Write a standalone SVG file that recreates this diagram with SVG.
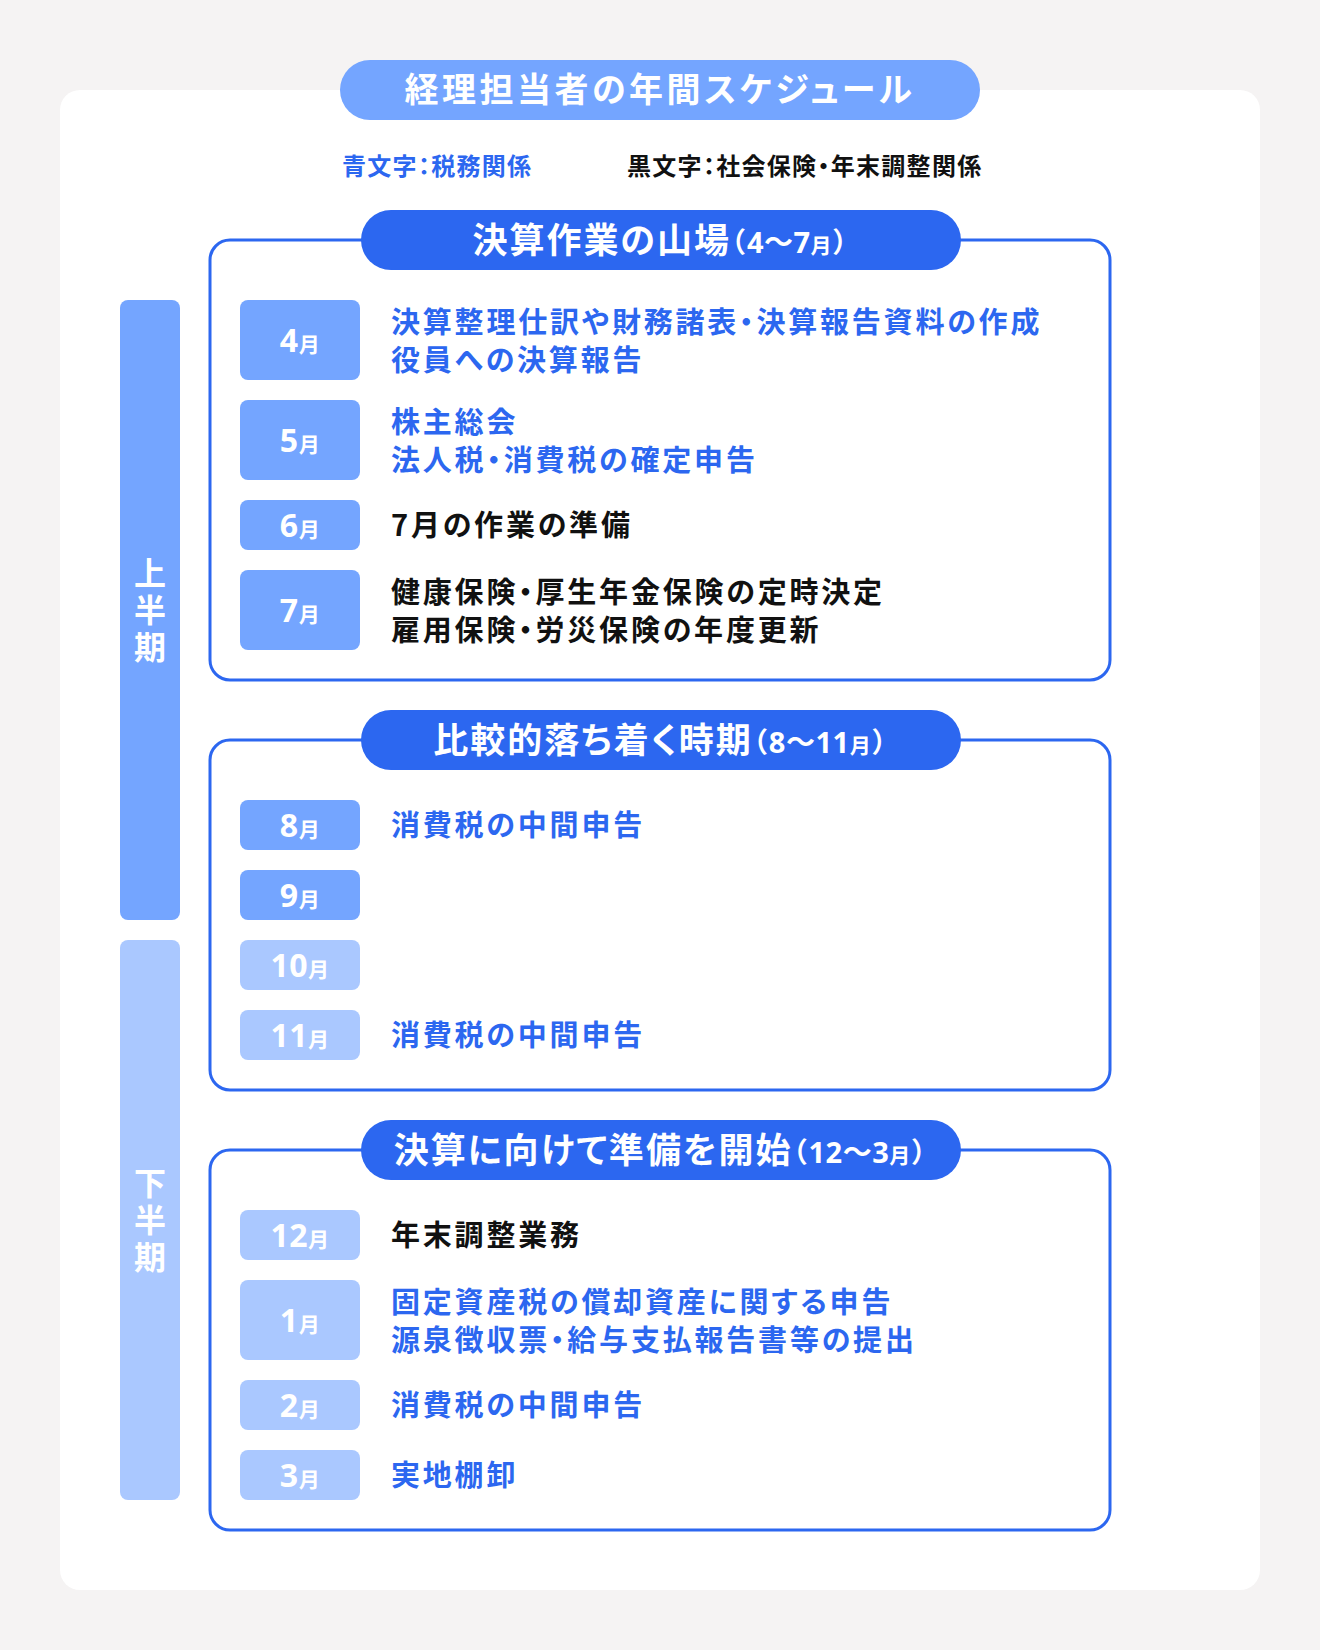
<svg xmlns="http://www.w3.org/2000/svg" width="1320" height="1650" viewBox="0 0 1320 1650">
<style>
.t{font-family:"Noto Sans CJK JP","Noto Sans",sans-serif;font-weight:700;font-feature-settings:"palt"}
.d{font-family:"Noto Sans","Noto Sans CJK JP",sans-serif;font-weight:700}
.v{font-family:"Noto Sans CJK JP",sans-serif;font-weight:700;font-size:32px;writing-mode:vertical-rl;text-anchor:middle;letter-spacing:5px;fill:#fff}
.frame{fill:#fff;stroke:#2C67F0;stroke-width:3}
.pill{fill:#2C67F0}
.m1{fill:#74A5FF}
.m2{fill:#AAC8FF}
.item{font-size:29px;letter-spacing:2.8px}
.blue{fill:#2C67F0}
.black{fill:#111}
.w{fill:#fff}
.mon{font-size:32px;text-anchor:middle;letter-spacing:0.5px}
.mon tspan.u{font-size:21px;font-family:"Noto Sans CJK JP",sans-serif}
.head{font-size:35px;text-anchor:middle;letter-spacing:2px}
.head tspan.n{font-size:29px;font-family:"Noto Sans","Noto Sans CJK JP",sans-serif;letter-spacing:0.5px}
.head tspan.p{font-size:28px}
.head tspan.u{font-size:21px}
</style>
<rect x="0" y="0" width="1320" height="1650" fill="#F5F3F3"/>
<rect x="60" y="90" width="1200" height="1500" rx="20" fill="#fff"/>

<g id="title">
<rect x="340" y="60" width="640" height="60" rx="30" class="m1"/>
<text x="660" y="102" class="t w" font-size="34" text-anchor="middle" letter-spacing="3.5">経理担当者の年間スケジュール</text>
</g>
<g id="legend">
<text x="342" y="175" class="t blue" font-size="24" letter-spacing="1.3">青文字：税務関係</text>
<text x="627" y="175" class="t black" font-size="24" letter-spacing="1.3">黒文字：社会保険・年末調整関係</text>
</g>

<g id="half1">
<rect x="120" y="300" width="60" height="620" rx="8" class="m1"/>
<text x="150" y="612" class="v">上半期</text>
</g>
<g id="half2">
<rect x="120" y="940" width="60" height="560" rx="8" class="m2"/>
<text x="150" y="1222" class="v">下半期</text>
</g>

<g id="section1">
<rect x="210" y="240" width="900" height="440" rx="20" class="frame"/>
<rect x="361" y="210" width="600" height="60" rx="30" class="pill"/>
<text x="661" y="253" class="t w head">決算作業の山場<tspan class="p">（</tspan><tspan class="n">4〜7</tspan><tspan class="u">月</tspan><tspan class="p">）</tspan></text>
</g>
<g id="m4">
<rect x="240" y="300" width="120" height="80" rx="8" class="m1"/>
<text x="300" y="352" class="d w mon">4<tspan class="u">月</tspan></text>
<text class="t item blue"><tspan x="391" y="333">決算整理仕訳や財務諸表・決算報告資料の作成</tspan><tspan x="391" y="371">役員への決算報告</tspan></text>
</g>
<g id="m5">
<rect x="240" y="400" width="120" height="80" rx="8" class="m1"/>
<text x="300" y="452" class="d w mon">5<tspan class="u">月</tspan></text>
<text class="t item blue"><tspan x="391" y="433">株主総会</tspan><tspan x="391" y="471">法人税・消費税の確定申告</tspan></text>
</g>
<g id="m6">
<rect x="240" y="500" width="120" height="50" rx="8" class="m1"/>
<text x="300" y="537" class="d w mon">6<tspan class="u">月</tspan></text>
<text x="391" y="536" class="t item black">7月の作業の準備</text>
</g>
<g id="m7">
<rect x="240" y="570" width="120" height="80" rx="8" class="m1"/>
<text x="300" y="622" class="d w mon">7<tspan class="u">月</tspan></text>
<text class="t item black"><tspan x="391" y="603">健康保険・厚生年金保険の定時決定</tspan><tspan x="391" y="641">雇用保険・労災保険の年度更新</tspan></text>
</g>

<g id="section2">
<rect x="210" y="740" width="900" height="350" rx="20" class="frame"/>
<rect x="361" y="710" width="600" height="60" rx="30" class="pill"/>
<text x="661" y="753" class="t w head">比較的落ち着く時期<tspan class="p">（</tspan><tspan class="n">8〜11</tspan><tspan class="u">月</tspan><tspan class="p">）</tspan></text>
</g>
<g id="m8">
<rect x="240" y="800" width="120" height="50" rx="8" class="m1"/>
<text x="300" y="837" class="d w mon">8<tspan class="u">月</tspan></text>
<text x="391" y="836" class="t item blue">消費税の中間申告</text>
</g>
<g id="m9">
<rect x="240" y="870" width="120" height="50" rx="8" class="m1"/>
<text x="300" y="907" class="d w mon">9<tspan class="u">月</tspan></text>
</g>
<g id="m10">
<rect x="240" y="940" width="120" height="50" rx="8" class="m2"/>
<text x="300" y="977" class="d w mon">10<tspan class="u">月</tspan></text>
</g>
<g id="m11">
<rect x="240" y="1010" width="120" height="50" rx="8" class="m2"/>
<text x="300" y="1047" class="d w mon">11<tspan class="u">月</tspan></text>
<text x="391" y="1046" class="t item blue">消費税の中間申告</text>
</g>

<g id="section3">
<rect x="210" y="1150" width="900" height="380" rx="20" class="frame"/>
<rect x="361" y="1120" width="600" height="60" rx="30" class="pill"/>
<text x="661" y="1163" class="t w head">決算に向けて準備を開始<tspan class="p">（</tspan><tspan class="n">12〜3</tspan><tspan class="u">月</tspan><tspan class="p">）</tspan></text>
</g>
<g id="m12">
<rect x="240" y="1210" width="120" height="50" rx="8" class="m2"/>
<text x="300" y="1247" class="d w mon">12<tspan class="u">月</tspan></text>
<text x="391" y="1246" class="t item black">年末調整業務</text>
</g>
<g id="m1">
<rect x="240" y="1280" width="120" height="80" rx="8" class="m2"/>
<text x="300" y="1332" class="d w mon">1<tspan class="u">月</tspan></text>
<text class="t item blue"><tspan x="391" y="1313">固定資産税の償却資産に関する申告</tspan><tspan x="391" y="1351">源泉徴収票・給与支払報告書等の提出</tspan></text>
</g>
<g id="m2">
<rect x="240" y="1380" width="120" height="50" rx="8" class="m2"/>
<text x="300" y="1417" class="d w mon">2<tspan class="u">月</tspan></text>
<text x="391" y="1416" class="t item blue">消費税の中間申告</text>
</g>
<g id="m3">
<rect x="240" y="1450" width="120" height="50" rx="8" class="m2"/>
<text x="300" y="1487" class="d w mon">3<tspan class="u">月</tspan></text>
<text x="391" y="1486" class="t item blue">実地棚卸</text>
</g>
</svg>
